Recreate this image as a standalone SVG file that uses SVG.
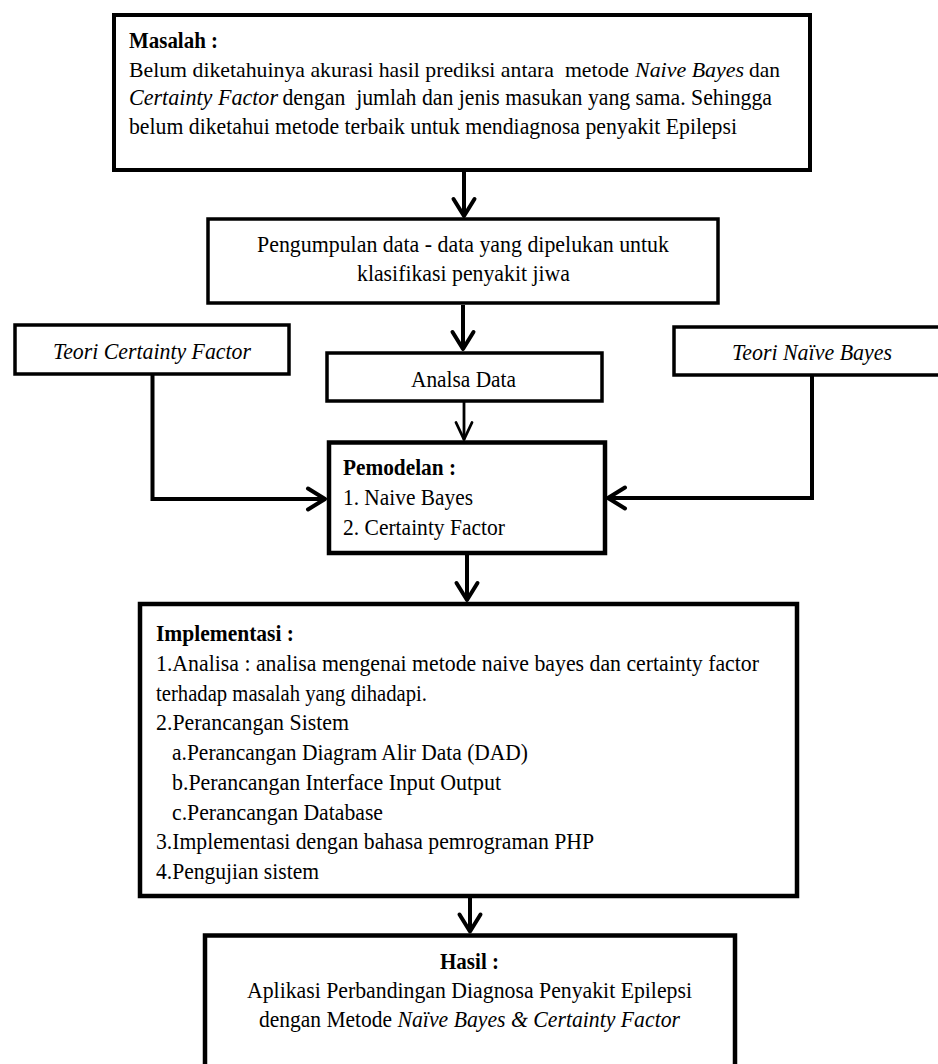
<svg xmlns="http://www.w3.org/2000/svg" width="938" height="1064" viewBox="0 0 938 1064">
<style>
.t{font-family:"Liberation Serif","Times New Roman",serif;font-size:24px;fill:#000}
.s{font-size:22px}
.b{font-weight:bold}
.i{font-style:italic}
.box{fill:#fff;stroke:#000}
.c{fill:none;stroke:#000}
</style>
<defs>
<marker id="a4" markerUnits="userSpaceOnUse" orient="auto" markerWidth="40" markerHeight="40" viewBox="-20 -20 40 40" refX="0" refY="0" overflow="visible">
<path d="M-17,-10.5 L0,0 L-17,10.5" fill="none" stroke="#000" stroke-width="4" stroke-linecap="round" stroke-linejoin="round"/>
</marker>
<marker id="a3" markerUnits="userSpaceOnUse" orient="auto" markerWidth="40" markerHeight="40" viewBox="-20 -20 40 40" refX="0" refY="0" overflow="visible">
<path d="M-17,-8 L0,0 L-17,8" fill="none" stroke="#000" stroke-width="2.8" stroke-linecap="round" stroke-linejoin="round"/>
</marker>
</defs>
<rect width="938" height="1064" fill="#fff"/>

<g id="masalah">
<rect class="box" x="114" y="15" width="696" height="155" stroke-width="4"/>
<text class="t b" x="129" y="47.5" textLength="89" lengthAdjust="spacingAndGlyphs">Masalah :</text>
<text class="t s" x="129" y="76.5" textLength="500" lengthAdjust="spacingAndGlyphs" xml:space="preserve">Belum diketahuinya akurasi hasil prediksi antara  metode</text>
<text class="t s i" x="635" y="76.5" textLength="109" lengthAdjust="spacingAndGlyphs">Naive Bayes</text>
<text class="t s" x="749" y="76.5" textLength="31" lengthAdjust="spacingAndGlyphs">dan</text>
<text class="t i" x="129" y="105" textLength="149" lengthAdjust="spacingAndGlyphs">Certainty Factor</text>
<text class="t" x="282.5" y="105" textLength="489.5" lengthAdjust="spacingAndGlyphs" xml:space="preserve">dengan  jumlah dan jenis masukan yang sama. Sehingga</text>
<text class="t" x="129" y="133.5" textLength="608" lengthAdjust="spacingAndGlyphs">belum diketahui metode terbaik untuk mendiagnosa penyakit Epilepsi</text>
</g>

<g id="pengumpulan">
<rect class="box" x="208" y="219" width="510" height="84" stroke-width="3.5"/>
<text class="t" x="257" y="252" textLength="412" lengthAdjust="spacingAndGlyphs">Pengumpulan data - data yang dipelukan untuk</text>
<text class="t" x="357" y="281" textLength="213" lengthAdjust="spacingAndGlyphs">klasifikasi penyakit jiwa</text>
</g>

<g id="teori-cf">
<rect class="box" x="15" y="325" width="274" height="49" stroke-width="3.5"/>
<text class="t i" x="53" y="359" textLength="198" lengthAdjust="spacingAndGlyphs">Teori Certainty Factor</text>
</g>

<g id="teori-nb">
<rect class="box" x="674" y="327" width="280" height="48" stroke-width="3.5"/>
<text class="t i" x="732" y="360" textLength="160" lengthAdjust="spacingAndGlyphs">Teori Naïve Bayes</text>
</g>

<g id="analsa">
<rect class="box" x="327" y="353" width="275" height="48" stroke-width="3.5"/>
<text class="t" x="411" y="387" textLength="105" lengthAdjust="spacingAndGlyphs">Analsa Data</text>
</g>

<g id="pemodelan">
<rect class="box" x="329" y="442.5" width="276" height="110.5" stroke-width="4.5"/>
<text class="t b" x="343" y="475" textLength="113" lengthAdjust="spacingAndGlyphs">Pemodelan :</text>
<text class="t" x="343" y="505" textLength="130" lengthAdjust="spacingAndGlyphs">1. Naive Bayes</text>
<text class="t" x="343" y="535" textLength="162" lengthAdjust="spacingAndGlyphs">2. Certainty Factor</text>
</g>

<g id="implementasi">
<rect class="box" x="140" y="604" width="657" height="292" stroke-width="4.5"/>
<text class="t b" x="156" y="641" textLength="138" lengthAdjust="spacingAndGlyphs">Implementasi :</text>
<text class="t" x="156" y="670.75" textLength="603" lengthAdjust="spacingAndGlyphs">1.Analisa : analisa mengenai metode naive bayes dan certainty factor</text>
<text class="t" x="156" y="700.5" textLength="271" lengthAdjust="spacingAndGlyphs">terhadap masalah yang dihadapi.</text>
<text class="t" x="156" y="730.25" textLength="193" lengthAdjust="spacingAndGlyphs">2.Perancangan Sistem</text>
<text class="t" x="172" y="760" textLength="356" lengthAdjust="spacingAndGlyphs">a.Perancangan Diagram Alir Data (DAD)</text>
<text class="t" x="172" y="789.75" textLength="329" lengthAdjust="spacingAndGlyphs">b.Perancangan Interface Input Output</text>
<text class="t" x="172" y="819.5" textLength="211" lengthAdjust="spacingAndGlyphs">c.Perancangan Database</text>
<text class="t" x="156" y="849.25" textLength="438" lengthAdjust="spacingAndGlyphs">3.Implementasi dengan bahasa pemrograman PHP</text>
<text class="t" x="156" y="879" textLength="163" lengthAdjust="spacingAndGlyphs">4.Pengujian sistem</text>
</g>

<g id="hasil">
<rect class="box" x="205" y="935.5" width="530" height="140" stroke-width="4.5"/>
<text class="t b" x="440" y="969" textLength="59" lengthAdjust="spacingAndGlyphs">Hasil :</text>
<text class="t" x="247" y="998" textLength="445" lengthAdjust="spacingAndGlyphs">Aplikasi Perbandingan Diagnosa Penyakit Epilepsi</text>
<text class="t" x="259" y="1027" textLength="133" lengthAdjust="spacingAndGlyphs">dengan Metode</text>
<text class="t i" x="397.5" y="1027" textLength="282.5" lengthAdjust="spacingAndGlyphs">Naïve Bayes &amp; Certainty Factor</text>
</g>

<g id="connectors">
<path class="c" d="M464,171 V216" stroke-width="4" marker-end="url(#a4)"/>
<path class="c" d="M463,305 V349" stroke-width="4" marker-end="url(#a4)"/>
<path class="c" d="M464,402 V439.5" stroke-width="2.8" marker-end="url(#a3)"/>
<path class="c" d="M152.5,375 V499 H325" stroke-width="4" marker-end="url(#a4)"/>
<path class="c" d="M812,376 V498 H608" stroke-width="4" marker-end="url(#a4)"/>
<path class="c" d="M467,555 V600" stroke-width="4" marker-end="url(#a4)"/>
<path class="c" d="M470,898 V931.5" stroke-width="4" marker-end="url(#a4)"/>
</g>
</svg>
